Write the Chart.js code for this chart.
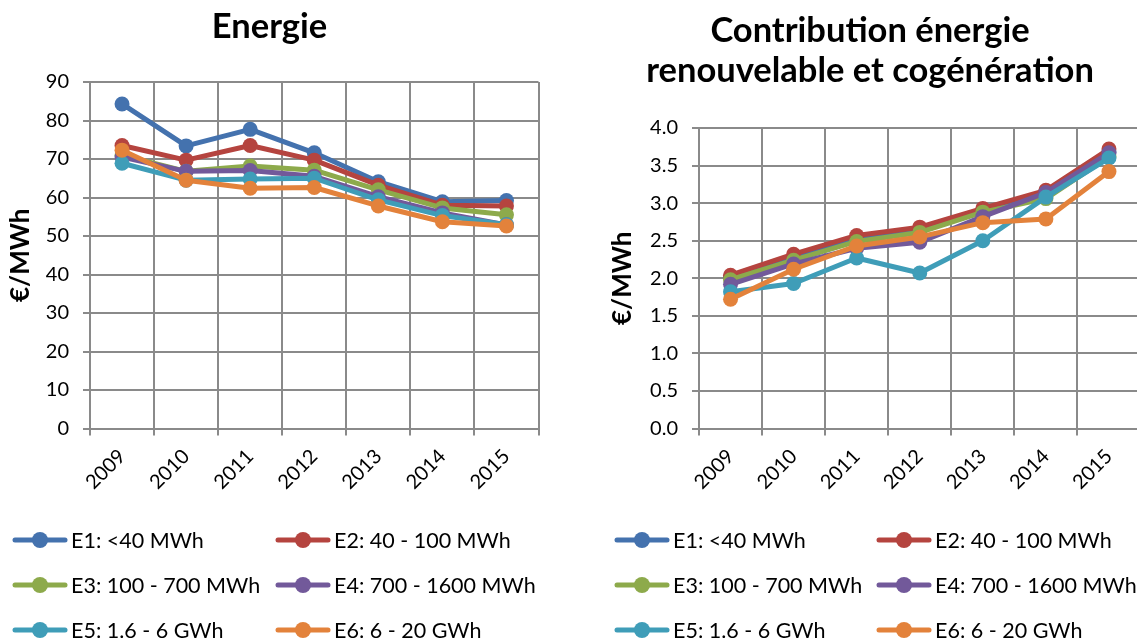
<!DOCTYPE html>
<html>
<head>
<meta charset="utf-8">
<script src="https://cdn.jsdelivr.net/npm/chart.js@4/dist/chart.umd.min.js"></script>
<style>
html, body { margin:0; padding:0; overflow:hidden; background:#fff; width:1137px; height:638px; }
canvas { position:absolute; top:0; }
#c1 { left:0; }
#c2 { left:600px; }
</style>
</head>
<body>
<canvas id="c1" width="546" height="638"></canvas>
<canvas id="c2" width="548" height="638"></canvas>
<script>
const years = ['2009','2010','2011','2012','2013','2014','2015'];
const seriesNames = ['E1: <40 MWh','E2: 40 - 100 MWh','E3: 100 - 700 MWh','E4: 700 - 1600 MWh','E5: 1.6 - 6 GWh','E6: 6 - 20 GWh'];
const seriesColors = ['#4472AE','#B5443F','#8DAA4B','#72599A','#3F9DB8','#E3823B'];

const energieE1 = [84.3, 73.4, 77.7, 71.6, 64.1, 58.9, 59.2];
const energieE2 = [73.5, 69.7, 73.5, 69.7, 63.2, 58.0, 57.8];
const energieE3 = [71.0, 66.8, 68.2, 67.1, 62.0, 57.3, 55.5];
const energieE4 = [70.5, 66.8, 67.0, 65.5, 60.2, 56.0, 52.9];
const energieE5 = [68.9, 64.5, 64.8, 65.0, 59.4, 55.3, 52.9];
const energieE6 = [72.3, 64.5, 62.4, 62.6, 57.8, 53.7, 52.6];

const renouvE1 = [2.02, 2.28, 2.53, 2.63, 2.90, 3.15, 3.68];
const renouvE2 = [2.04, 2.32, 2.57, 2.68, 2.93, 3.17, 3.72];
const renouvE3 = [1.98, 2.24, 2.49, 2.61, 2.88, 3.06, 3.62];
const renouvE4 = [1.92, 2.19, 2.40, 2.48, 2.82, 3.14, 3.67];
const renouvE5 = [1.82, 1.93, 2.27, 2.07, 2.50, 3.08, 3.60];
const renouvE6 = [1.72, 2.12, 2.43, 2.55, 2.74, 2.79, 3.42];

const energieSeries = [energieE1, energieE2, energieE3, energieE4, energieE5, energieE6];
const renouvSeries = [renouvE1, renouvE2, renouvE3, renouvE4, renouvE5, renouvE6];

const FONT = 'Lato, "Open Sans", sans-serif';
const GRID = '#8a8a8a';

function makeDatasets(series) {
  return series.map((vals, i) => ({
    label: seriesNames[i],
    data: vals,
    borderColor: seriesColors[i],
    backgroundColor: seriesColors[i],
    pointBackgroundColor: seriesColors[i],
    pointBorderColor: seriesColors[i],
    borderWidth: 5,
    pointRadius: 7.5,
    pointBorderWidth: 0,
    borderCapStyle: 'round',
    borderJoinStyle: 'round',
    tension: 0,
    order: 6 - i
  }));
}

const chartDecor = {
  id: 'chartDecor',
  afterDraw(chart, args, opts) {
    const ctx = chart.ctx;
    ctx.save();
    ctx.fillStyle = '#000';
    ctx.font = 'bold 34.5px ' + FONT;
    ctx.textAlign = 'center';
    ctx.textBaseline = 'middle';
    opts.title.forEach((line, i) => {
      ctx.fillText(line, opts.titleX, opts.titleY + i * opts.titleLH);
    });
    ctx.restore();
    chart.data.datasets.forEach((ds, i) => {
      const col = i % 2, row = Math.floor(i / 2);
      const x0 = opts.cols[col], y = opts.rows[row];
      ctx.save();
      ctx.strokeStyle = ds.borderColor;
      ctx.lineWidth = 5;
      ctx.lineCap = 'round';
      ctx.beginPath();
      ctx.moveTo(x0 + 2, y);
      ctx.lineTo(x0 + 52, y);
      ctx.stroke();
      ctx.fillStyle = ds.backgroundColor;
      ctx.beginPath();
      ctx.arc(x0 + 27, y, 8, 0, Math.PI * 2);
      ctx.fill();
      ctx.fillStyle = '#000';
      ctx.font = '21.5px ' + FONT;
      ctx.textBaseline = 'middle';
      ctx.textAlign = 'left';
      ctx.fillText(ds.label, x0 + 58, y + 1);
      ctx.restore();
    });
  }
};

function makeChart(id, series, cfg) {
  return new Chart(document.getElementById(id), {
    type: 'line',
    data: { labels: years, datasets: makeDatasets(series) },
    plugins: [chartDecor],
    options: {
      responsive: false,
      animation: false,
      events: [],
      layout: { padding: { left: 0, right: 0, top: cfg.padTop, bottom: 130 } },
      plugins: {
        legend: { display: false },
        tooltip: { enabled: false },
        title: { display: false },
        chartDecor: {
          title: cfg.title, titleX: cfg.titleX, titleY: cfg.titleY, titleLH: 39.7,
          cols: cfg.legendCols, rows: [540, 585, 630]
        }
      },
      scales: {
        x: {
          type: 'category',
          offset: true,
          grid: { offset: true, color: GRID, lineWidth: 2, tickLength: 7, drawOnChartArea: true },
          border: { color: GRID, width: 2 },
          ticks: { color: '#000', font: { family: FONT, size: 20 }, minRotation: 45, maxRotation: 45, padding: 9 },
          afterFit(scale) { scale.height = 79.5; }
        },
        y: {
          min: 0,
          max: cfg.max,
          grid: { color: GRID, lineWidth: 2, tickLength: 7 },
          border: { color: GRID, width: 2 },
          ticks: {
            stepSize: cfg.step,
            color: '#000',
            font: { family: FONT, size: 20 },
            padding: 14,
            callback: cfg.tickFmt
          },
          title: {
            display: true,
            text: '€/MWh',
            color: '#000',
            font: { family: FONT, size: 26, weight: 'bold', lineHeight: 1.2 },
            padding: { top: cfg.yTitlePad, bottom: 0 }
          },
          afterFit(scale) { scale.width = cfg.yWidth; }
        }
      }
    }
  });
}

makeChart('c1', energieSeries, {
  title: ['Energie'],
  titleX: 269.5, titleY: 27,
  padTop: 82,
  max: 90, step: 10,
  tickFmt: v => String(v),
  yWidth: 90, yTitlePad: 5.4,
  legendCols: [13, 276]
});

makeChart('c2', renouvSeries, {
  title: ['Contribution énergie', 'renouvelable et cogénération'],
  titleX: 270, titleY: 31,
  padTop: 128,
  max: 4, step: 0.5,
  tickFmt: v => Number(v).toFixed(1),
  yWidth: 99, yTitlePad: 7.4,
  legendCols: [15, 277]
});
</script>
</body>
</html>
